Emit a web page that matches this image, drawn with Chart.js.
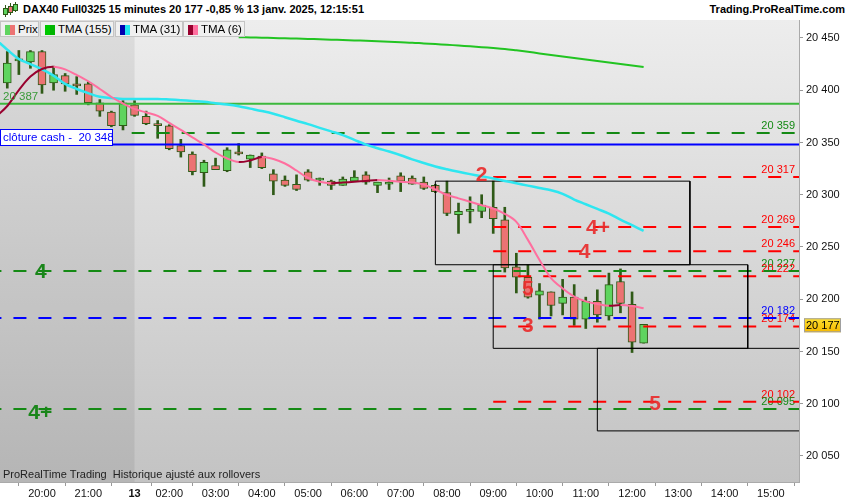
<!DOCTYPE html>
<html><head><meta charset="utf-8">
<script src="https://cdn.jsdelivr.net/npm/chart.js@4.4.1/dist/chart.umd.min.js"></script>
<style>
html,body{margin:0;padding:0;background:#fff;}
#wrap{position:relative;width:850px;height:500px;overflow:hidden;font-family:"Liberation Sans",Arial,sans-serif;}
#c{position:absolute;left:0;top:0;}
#title{position:absolute;left:0;top:0;width:850px;height:20px;background:#fff;}
#title .t{position:absolute;left:23px;top:3px;font-weight:bold;font-size:11px;color:#000;white-space:nowrap;}
#title .r{position:absolute;right:5px;top:3px;font-weight:bold;font-size:11px;color:#000;white-space:nowrap;}
.ic{position:absolute;width:3px;background:#5fd45f;border:1px solid #2f5a17;}
.icw{position:absolute;width:1px;background:#2f5a17;}
.lg{position:absolute;top:21px;height:16px;background:#f0f0f0;border:1px solid #c4c4c4;box-sizing:border-box;font-size:11.5px;color:#000;white-space:nowrap;}
.lg .sw{position:absolute;left:4px;top:3px;width:10px;height:10px;}
.lg .sw i{position:absolute;top:0;width:5px;height:10px;}
.lg .sw i.a{left:0}.lg .sw i.b{left:5px}
.lg span{position:absolute;left:17px;top:1px;}
</style></head>
<body><div id="wrap">
<canvas id="c" width="850" height="500"></canvas>
<div id="title">
  <div class="icw" style="left:5px;top:5px;height:12px"></div><div class="ic" style="left:3px;top:8px;height:5px"></div>
  <div class="icw" style="left:10px;top:3px;height:12px"></div><div class="ic" style="left:8px;top:6px;height:5px;background:#ec7373"></div>
  <div class="icw" style="left:15px;top:2px;height:10px"></div><div class="ic" style="left:13px;top:4px;height:5px"></div>
  <div class="t">DAX40 Full0325 15 minutes 20 177 -0,85 % 13 janv. 2025, 12:15:51</div>
  <div class="r">Trading.ProRealTime.com</div>
</div>
<div class="lg" style="left:0;width:39px"><div class="sw"><i class="a" style="background:#5fd45f"></i><i class="b" style="background:#ec7373"></i></div><span>Prix</span></div>
<div class="lg" style="left:40px;width:74px"><div class="sw"><i class="a" style="background:#00c800"></i><i class="b" style="background:#00b400"></i></div><span>TMA (155)</span></div>
<div class="lg" style="left:115px;width:68px"><div class="sw"><i class="a" style="background:#0000b0"></i><i class="b" style="background:#22e6f0"></i></div><span>TMA (31)</span></div>
<div class="lg" style="left:183px;width:62px"><div class="sw"><i class="a" style="background:#98002e"></i><i class="b" style="background:#ff6f9f"></i></div><span>TMA (6)</span></div>
</div>
<script>
// ---------- data ----------
const FIRST_IDX = -3;            // candle index of first bar (20:00 = index 0, 15-minute bars)
const OPEN  = [20407,20428,20427,20437,20407,20414,20406,20406,20388,20379,20366,20386,20375,20368,20366,20347,20339,20321,20328,20323,20341,20334,20337,20320,20314,20310,20322,20314,20313,20309,20313,20319,20309,20310,20318,20316,20312,20309,20302,20281,20284,20284,20288,20276,20231,20221,20204,20207,20196,20202,20181,20198,20184,20217,20195,20158];
const HIGH  = [20437,20438,20438,20438,20423,20416,20413,20408,20391,20380,20390,20390,20380,20371,20367,20353,20341,20333,20335,20345,20349,20338,20340,20324,20318,20319,20324,20316,20314,20317,20323,20322,20312,20316,20321,20318,20317,20310,20313,20292,20298,20300,20313,20288,20244,20233,20215,20207,20219,20214,20202,20209,20225,20229,20207,20176];
const LOW   = [20402,20415,20421,20397,20400,20399,20396,20386,20375,20365,20362,20375,20367,20354,20343,20336,20319,20308,20324,20322,20338,20326,20325,20300,20308,20304,20313,20309,20305,20309,20313,20310,20302,20305,20303,20310,20305,20302,20280,20263,20273,20278,20263,20226,20206,20201,20181,20184,20185,20175,20172,20178,20180,20187,20149,20158];
const CLOSE = [20426,20430,20437,20405,20415,20406,20404,20388,20380,20366,20388,20376,20368,20366,20344,20341,20322,20331,20324,20343,20339,20338,20326,20313,20309,20305,20314,20316,20309,20315,20317,20312,20312,20312,20313,20310,20306,20303,20282,20284,20286,20290,20277,20230,20221,20202,20208,20194,20202,20181,20198,20185,20214,20196,20159,20176];
// indicator values start one bar earlier than the first visible candle
const TMA_FIRST_IDX = -4;
const TMA31 = [20448.5,20438.8,20429.9,20425,20420,20414,20406,20401.2,20397.2,20393.8,20392.6,20391.6,20391.6,20391.6,20391.6,20391.1,20390.5,20389.7,20388.9,20387.6,20386.4,20384.7,20382.4,20380.1,20377.5,20374.2,20370.8,20367.6,20364,20360.6,20357,20352.5,20348,20344.5,20341.3,20337.8,20333.8,20330.4,20327,20324.3,20321.9,20319.7,20317.7,20315.6,20313.2,20311,20308.7,20306.5,20304.3,20300.9,20295.4,20290.9,20286.4,20281.9,20276.2,20270.8,20265.3];
const TMA6  = [20374.3,20384.9,20400.2,20413.2,20420.3,20422.5,20419.9,20414.6,20408.6,20401.2,20393.5,20387.3,20382.1,20378.7,20375.4,20368.7,20362,20354.8,20348.1,20340.4,20334.7,20331.3,20332.8,20336.1,20334.2,20329.9,20323.2,20316,20312.4,20311,20311.7,20312.4,20313.2,20314.1,20313.4,20312.5,20311.7,20309.7,20305,20299.8,20296.5,20293.3,20290,20286.8,20281.6,20274,20256.8,20237.6,20220.3,20210.3,20202.6,20197.9,20195.5,20193.7,20194.5,20193.5,20191.3];
const TMA155 = [null,null,null,null,null,null,null,null,null,null,null,null,null,null,null,null,null,null,null,null,null,
  20450.7,20450.5,20450.3,20450.0,20449.7,20449.4,20449.1,20448.8,20448.4,20448.0,20447.7,20447.3,20446.8,20446.4,20445.9,20445.5,20444.8,20444.2,20443.5,20442.8,20442.0,20441.2,20440.4,20439.5,20438.2,20436.8,20435.2,20433.7,20432.3,20430.9,20429.4,20428.0,20426.6,20425.1,20423.6,20422.2];

const X_TICK_IDX    = [0,4,8,11,15,19,23,27,31,35,39,43,47,51,55,59,63];
const X_TICK_LABELS = ['20:00','21:00','13','02:00','03:00','04:00','05:00','06:00','07:00','08:00','09:00','10:00','11:00','12:00','13:00','14:00','15:00'];
const Y_TICKS = [20050,20100,20150,20200,20250,20300,20350,20400,20450];

const SESSION_START_IDX = 8;
const GREEN_SOLID_LEVEL = 20387;
const CASH_CLOSE = 20348;
const GREEN_DASHED_LEVELS = [20359,20227,20095];
const GREEN_DASHED_START  = [7.75,null,null];
const BLUE_DASHED_LEVELS  = [20182];
const RED_DASHED_LEVELS   = [20317,20269,20246,20222,20174,20102];
const RED_DASHED_START    = 39;
// zones: left/right bar index, top/bottom price
const ZONE_LEFT   = [34,39,48];
const ZONE_RIGHT  = [56,61,70];
const ZONE_TOP    = [20313,20233,20153];
const ZONE_BOTTOM = [20233,20153,20074];
const RED_TAGS      = ['2','4+','4','5','3','5'];
const RED_TAG_IDX   = [38.0,48.05,46.9,42.0,42.0,53.0];
const RED_TAG_PRICE = [20319.4,20269,20246,20210.8,20174.9,20100.7];
const GREEN_TAGS      = ['4','4+'];
const GREEN_TAG_IDX   = [-0.1,-0.15];
const GREEN_TAG_PRICE = [20227,20092];
const LAST_PRICE = 20177;

const X_MIN = -3.63, X_MAX = 65.43, Y_MIN = 20025.1, Y_MAX = 20467.2;

// ---------- helpers ----------
const FONT = '"Liberation Sans", Arial, sans-serif';
const fmt = v => Math.round(v).toString().replace(/\B(?=(\d{3})+(?!\d))/g, ' ');
const idxs = OPEN.map((_, k) => FIRST_IDX + k);
const GREEN_C = '#5fd45f', RED_C = '#ec7373', EDGE = '#2f5a17';

const series = arr => arr.map((v, k) => ({x: TMA_FIRST_IDX + k, y: v})).filter(p => p.y !== null);
const twoColor = (up, down) => ({borderColor: c => (c.p1.parsed.y > c.p0.parsed.y ? up : down)});

const datasets = [];
datasets.push({type:'line', data: series(TMA6), borderWidth:2, pointRadius:0, tension:0.35, segment: twoColor('#98002e','#ff6f9f'), borderColor:'#ff6f9f', order:1});
datasets.push({type:'line', data: series(TMA31), borderWidth:2.5, pointRadius:0, tension:0.35, segment: twoColor('#0000b0','#2ee6f0'), borderColor:'#2ee6f0', order:1});
datasets.push({type:'line', data: series(TMA155), borderWidth:2, pointRadius:0, tension:0.35, borderColor:'#22c422', order:1});
ZONE_LEFT.forEach((l, k) => {
  const r = ZONE_RIGHT[k], t = ZONE_TOP[k], b = ZONE_BOTTOM[k];
  datasets.push({type:'line', data:[{x:l,y:t},{x:r,y:t},{x:r,y:b},{x:l,y:b},{x:l,y:t}], borderColor:'#000', borderWidth:1, pointRadius:0, tension:0, order:2});
});
const level = (v, from, color, dash, w) => datasets.push({type:'line', data:[{x:from,y:v},{x:X_MAX+1,y:v}], borderColor:color, borderWidth:w, borderDash:dash, pointRadius:0, order:3});
level(GREEN_SOLID_LEVEL, X_MIN-1, '#3cb83c', [], 2);
level(CASH_CLOSE, X_MIN-1, '#0000ff', [], 2);
GREEN_DASHED_LEVELS.forEach((v,k) => level(v, GREEN_DASHED_START[k] ?? X_MIN-1, '#148a14', [13,12], 2));
BLUE_DASHED_LEVELS.forEach(v => level(v, X_MIN-1, '#0000ff', [13,12], 2));
RED_DASHED_LEVELS.forEach(v => level(v, RED_DASHED_START, '#ff0000', [13,12], 2));
datasets.push({type:'bar', data: idxs.map((x,k) => ({x, y:[OPEN[k], CLOSE[k]]})), backgroundColor: CLOSE.map((c,k) => c >= OPEN[k] ? GREEN_C : RED_C), borderColor: EDGE, borderWidth:1, borderSkipped:false, barThickness:8, grouped:false, order:5});
datasets.push({type:'bar', data: idxs.map((x,k) => ({x, y:[LOW[k], HIGH[k]]})), backgroundColor: EDGE, borderWidth:0, barThickness:2, grouped:false, order:6});

const bgPlugin = {
  id:'bg',
  beforeDraw(chart){
    const {ctx, chartArea:a, scales:{x}} = chart;
    ctx.save();
    ctx.fillStyle = '#fff'; ctx.fillRect(0,0,chart.width,chart.height);
    const g = ctx.createLinearGradient(0,a.top,0,a.bottom);
    g.addColorStop(0,'#ededed'); g.addColorStop(1,'#c3c3c3');
    ctx.fillStyle = g; ctx.fillRect(a.left,a.top,a.right-a.left,a.bottom-a.top);
    const xs = x.getPixelForValue(SESSION_START_IDX);
    ctx.fillStyle = 'rgba(0,0,0,0.065)';
    ctx.fillRect(a.left,a.top,xs-a.left,a.bottom-a.top);
    ctx.restore();
  },
  beforeDatasetsDraw(chart){
    const {ctx, chartArea:a, scales:{y}} = chart;
    ctx.save();
    ctx.font = '11px ' + FONT; ctx.textAlign = 'right'; ctx.textBaseline = 'middle';
    const labels = [];
    GREEN_DASHED_LEVELS.forEach(v => labels.push([v,'#148a14']));
    BLUE_DASHED_LEVELS.forEach(v => labels.push([v,'#0000ff']));
    RED_DASHED_LEVELS.forEach(v => labels.push([v,'#ff0000']));
    labels.sort((p,q) => q[0]-p[0]).forEach(([v,c]) => { ctx.fillStyle = c; ctx.fillText(fmt(v), a.right-4, y.getPixelForValue(v)-7); });
    ctx.restore();
  },
  afterDatasetsDraw(chart){
    const {ctx, chartArea:a, scales:{x,y}} = chart;
    ctx.save();
    ctx.font = '11.5px ' + FONT; ctx.textAlign='left'; ctx.textBaseline='middle';
    ctx.fillStyle = '#3a9a3a';
    ctx.fillText(fmt(GREEN_SOLID_LEVEL), a.left+3, y.getPixelForValue(GREEN_SOLID_LEVEL)-7);
    const yb = Math.round(y.getPixelForValue(CASH_CLOSE));
    ctx.fillStyle = '#fff'; ctx.fillRect(a.left, yb-16, 113, 16);
    ctx.strokeStyle = '#0000ff'; ctx.lineWidth = 1; ctx.strokeRect(a.left+0.5, yb-15.5, 112, 16);
    ctx.fillStyle = '#0000ff'; ctx.fillText('clôture cash -  ' + fmt(CASH_CLOSE), a.left+3, yb-7.5);
    ctx.font = 'bold 21px ' + FONT; ctx.textAlign='center'; ctx.textBaseline='middle';
    ctx.fillStyle = 'rgba(232,44,44,0.92)';
    RED_TAGS.forEach((t,k) => ctx.fillText(t, x.getPixelForValue(RED_TAG_IDX[k]), y.getPixelForValue(RED_TAG_PRICE[k])+1));
    ctx.fillStyle = '#1a861a';
    GREEN_TAGS.forEach((t,k) => ctx.fillText(t, x.getPixelForValue(GREEN_TAG_IDX[k]), y.getPixelForValue(GREEN_TAG_PRICE[k])+1));
    ctx.font = '11px ' + FONT; ctx.textAlign='left'; ctx.fillStyle = '#222';
    ctx.fillText('ProRealTime Trading  Historique ajusté aux rollovers', a.left+3, a.bottom-7);
    ctx.restore();
  },
  afterDraw(chart){
    const {ctx, chartArea:a, scales:{y}} = chart;
    const yp = y.getPixelForValue(LAST_PRICE) + 2;
    ctx.save();
    const g = ctx.createLinearGradient(0, yp-7, 0, yp+7);
    g.addColorStop(0,'#ffe030'); g.addColorStop(1,'#f5b800');
    ctx.fillStyle = g; ctx.fillRect(a.right+5, yp-7, 37, 14);
    ctx.strokeStyle = '#a0a0a0'; ctx.lineWidth = 1; ctx.strokeRect(a.right+5.5, yp-6.5, 36, 13);
    ctx.fillStyle = '#000'; ctx.font = '11px ' + FONT; ctx.textAlign='left'; ctx.textBaseline='middle';
    ctx.fillText(fmt(LAST_PRICE), a.right+7, yp+0.5);
    ctx.restore();
  }
};

new Chart(document.getElementById('c'), {
  type: 'line',
  data: { datasets },
  options: {
    responsive:false, animation:false, events:[],
    layout:{ padding:{ top:20, left:0, right:0, bottom:0 } },
    plugins:{ legend:{display:false}, tooltip:{enabled:false} },
    scales:{
      x:{ type:'linear', min:X_MIN, max:X_MAX, offset:false,
        afterFit(s){ s.height = 18; },
        afterBuildTicks(s){ s.ticks = X_TICK_IDX.map(v => ({value:v})); },
        ticks:{ autoSkip:false, maxRotation:0, padding:1, color:'#111',
          callback:(v) => X_TICK_LABELS[X_TICK_IDX.indexOf(v)],
          font:(c) => ({ size:11, family:FONT, weight: (c.tick && X_TICK_LABELS[X_TICK_IDX.indexOf(c.tick.value)] === '13') ? 'bold' : 'normal' }) },
        grid:{ drawOnChartArea:false, tickLength:4, color:'#999' },
        border:{ display:true, color:'#aaa' } },
      y:{ type:'linear', position:'right', min:Y_MIN, max:Y_MAX,
        afterFit(s){ s.width = 51; },
        afterBuildTicks(s){ s.ticks = Y_TICKS.map(v => ({value:v})); },
        ticks:{ padding:3, color:'#111', font:{ size:11, family:FONT }, callback:(v) => fmt(v) },
        grid:{ drawOnChartArea:false, tickLength:4, color:'#999' },
        border:{ display:true, color:'#aaa' } }
    }
  },
  plugins:[bgPlugin]
});
</script>
</body></html>
